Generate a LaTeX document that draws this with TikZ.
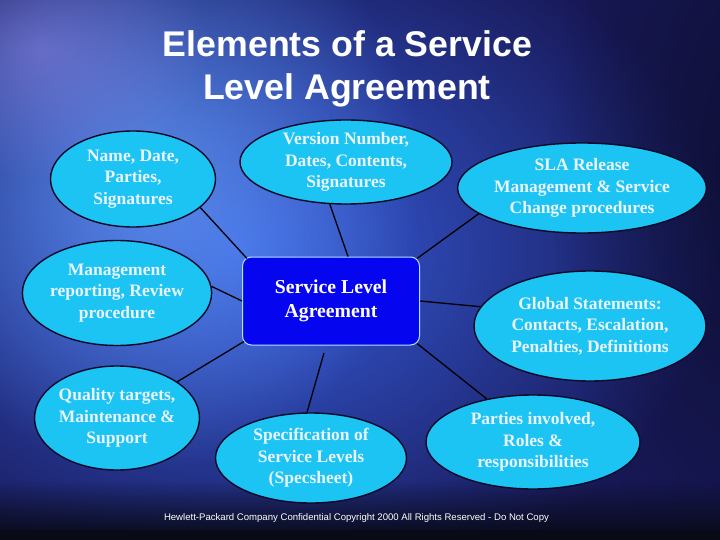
\documentclass[tikz,border=0pt]{standalone}
\usepackage{fontspec}
\setmainfont{Liberation Serif}
\newfontfamily\arialfont{Liberation Sans}
\usetikzlibrary{shapes.geometric,fadings}
\definecolor{bgbase}{RGB}{24,24,86}
\definecolor{bgglow}{RGB}{56,96,226}
\definecolor{bglight}{RGB}{104,160,246}
\definecolor{bgviolet}{RGB}{150,140,236}
\definecolor{bgdark}{RGB}{10,12,40}
\definecolor{bgbottom}{RGB}{8,10,22}
\definecolor{bubblefill}{RGB}{28,196,244}
\definecolor{bubbletext}{RGB}{234,244,255}
\definecolor{ellline}{RGB}{10,10,40}
\definecolor{boxfill}{RGB}{5,5,240}
\definecolor{boxline}{RGB}{176,228,255}
\tikzfading[name=glowfade, inner color=transparent!0, outer color=transparent!100]
\tikzfading[name=fadeup, top color=transparent!100, bottom color=transparent!0]
\begin{document}
\begin{tikzpicture}[x=1pt,y=-1pt,
  bubble/.style={ellipse, draw=ellline, line width=1.4pt, fill=bubblefill,
    text=bubbletext, font=\bfseries\fontsize{17.5}{21.5}\selectfont,
    align=center, inner sep=0pt},
  slabox/.style={rectangle, rounded corners=9pt, draw=boxline, line width=1pt,
    fill=boxfill, text=white, font=\bfseries\fontsize{19.7}{24.5}\selectfont,
    align=center, minimum width=177pt, minimum height=88pt, inner sep=0pt},
  link/.style={draw=black, line width=1.3pt},
  titletext/.style={font=\arialfont\bfseries\fontsize{35.7}{43}\selectfont, anchor=base, inner sep=0pt, text=white}
]
\useasboundingbox (0,0) rectangle (720,540);
% background
\fill[bgbase] (0,0) rectangle (720,540);
\fill[bgglow, path fading=glowfade] (240,250) ellipse (480 and 360);
\fill[bglight, opacity=0.7, path fading=glowfade] (150,180) ellipse (270 and 290);
\fill[bgviolet, opacity=0.5, path fading=glowfade] (40,50) ellipse (170 and 130);
\fill[bgdark, opacity=0.75, path fading=glowfade] (770,170) ellipse (220 and 430);
\fill[bgbottom, path fading=fadeup] (0,480) rectangle (720,540);
\fill[bgbottom] (0,530) rectangle (720,540);

% title
\node[titletext] (t1) at (347.5,57) {Elements of a Service};
\node[titletext] (t2) at (347,100) {Level Agreement};

% centre
\node[slabox] (sla) at (331,301) {Service Level\\Agreement};

% bubbles
\node[bubble, minimum width=165pt, minimum height=96pt] (e1) at (133,179) {Name, Date,\\Parties,\\Signatures};
\node[bubble, minimum width=212pt, minimum height=84pt] (e2) at (346,162) {Version Number,\\Dates, Contents,\\Signatures};
\node[bubble, minimum width=240pt, minimum height=90pt] (e3) at (582,188) {SLA Release\\Management \& Service\\Change procedures};
\node[bubble, minimum width=165pt, minimum height=105pt] (e4) at (117,293) {Management\\reporting, Review\\procedure};
\node[bubble, minimum width=232pt, minimum height=110pt] (e6) at (590,326) {Global Statements:\\Contacts, Escalation,\\Penalties, Definitions};
\node[bubble, minimum width=163pt, minimum height=104pt] (e7) at (117,418) {Quality targets,\\Maintenance \&\\Support};
\node[bubble, minimum width=191pt, minimum height=90pt] (e8) at (311,458) {Specification of\\Service Levels\\(Specsheet)};
\node[bubble, minimum width=214pt, minimum height=94pt] (e9) at (533,442) {Parties involved,\\Roles \&\\responsibilities};

% connectors
\coordinate (specend) at (324,353);
\path[link] (e1.-23) -- ([shift={(5,2)}]sla.north west);
\path[link] (e2.-111) -- ([shift={(17,0)}]sla.north);
\path[link] (e3.-166) -- ([shift={(-3,2)}]sla.north east);
\path[link] (e4.4) -- (sla.west);
\path[link] (e6.170) -- (sla.east);
\path[link] (e7.31) -- ([shift={(2,-4)}]sla.south west);
\path[link] (e8.95) -- (specend);
\path[link] (e9.137) -- ([shift={(-3,-2)}]sla.south east);

% footer
\node[anchor=base, inner sep=0pt, text=white] (foot) at (356.5,520.5)
  {\resizebox{385pt}{!}{\arialfont\fontsize{10}{12}\selectfont Hewlett-Packard Company Confidential Copyright 2000 All Rights Reserved - Do Not Copy}};
\end{tikzpicture}
\end{document}
